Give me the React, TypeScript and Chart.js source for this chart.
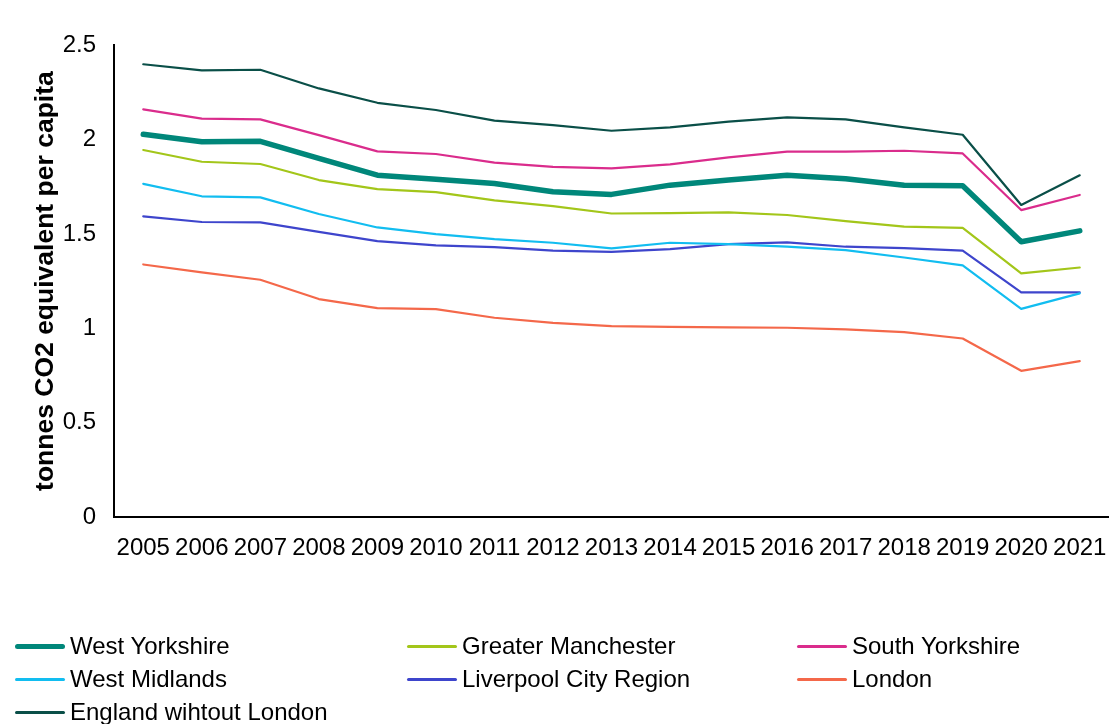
import React, { useEffect, useRef } from "react";
import { Chart, registerables } from "chart.js";

Chart.register(...registerables);

const years = ["2005","2006","2007","2008","2009","2010","2011","2012","2013","2014","2015","2016","2017","2018","2019","2020","2021"];

const westYorkshire = [2.027,1.988,1.990,1.900,1.811,1.789,1.767,1.723,1.709,1.758,1.785,1.810,1.792,1.758,1.755,1.458,1.516];
const greaterManchester = [1.944,1.882,1.870,1.785,1.737,1.721,1.677,1.647,1.608,1.610,1.614,1.600,1.568,1.538,1.532,1.291,1.322];
const southYorkshire = [2.159,2.110,2.106,2.023,1.937,1.923,1.877,1.855,1.847,1.868,1.905,1.935,1.935,1.940,1.926,1.626,1.706];
const westMidlands = [1.765,1.699,1.693,1.605,1.534,1.499,1.472,1.453,1.423,1.453,1.446,1.432,1.414,1.375,1.333,1.103,1.185];
const liverpoolCityRegion = [1.593,1.563,1.561,1.511,1.462,1.439,1.430,1.411,1.405,1.419,1.446,1.455,1.432,1.425,1.411,1.190,1.190];
const london = [1.338,1.296,1.257,1.155,1.107,1.102,1.056,1.029,1.012,1.008,1.005,1.003,0.994,0.980,0.946,0.775,0.826];
const englandWithoutLondon = [2.398,2.366,2.369,2.270,2.194,2.156,2.100,2.076,2.046,2.064,2.094,2.117,2.106,2.064,2.025,1.653,1.810];

const seriesNames = ["West Yorkshire","Greater Manchester","South Yorkshire","West Midlands","Liverpool City Region","London","England wihtout London"];
const seriesValues = [westYorkshire, greaterManchester, southYorkshire, westMidlands, liverpoolCityRegion, london, englandWithoutLondon];
const seriesColors = ["#00877A","#A3C61A","#DA2C8C","#12BDF0","#3E45CC","#F4684A","#0A4F48"];
const seriesWidths = [5.5, 2.2, 2.2, 2.2, 2.2, 2.2, 2.2];

const yTitle = "tonnes CO2 equivalent per capita";
const FONT = "'Liberation Sans', Arial, Helvetica, sans-serif";

const legendCols = [15, 407, 797];
const legendRows = [646, 679, 712];

export default function App() {
  const canvasRef = useRef<HTMLCanvasElement | null>(null);

  useEffect(() => {
    document.body.style.margin = "0";
    const ctx = canvasRef.current;
    if (!ctx) return;
    const chart = new Chart(ctx, {
      type: "line",
      data: {
        labels: years,
        datasets: seriesNames.map((name, i) => ({
          label: name,
          data: seriesValues[i],
          borderColor: seriesColors[i],
          backgroundColor: seriesColors[i],
          borderWidth: seriesWidths[i],
          pointRadius: 0,
          tension: 0,
          fill: false,
          borderJoinStyle: "round" as const,
          borderCapStyle: "round" as const,
        })),
      },
      options: {
        animation: false,
        responsive: false,
        maintainAspectRatio: false,
        layout: { padding: { top: 45, left: 0, right: 0, bottom: 144 } },
        plugins: {
          legend: { display: false },
          tooltip: { enabled: false },
        },
        scales: {
          x: {
            type: "category",
            offset: true,
            grid: { display: false, drawTicks: false },
            border: { display: true, color: "#000", width: 2 },
            ticks: {
              color: "#000",
              font: { family: FONT, size: 24 },
              padding: 17,
              maxRotation: 0,
              autoSkip: false,
            },
            afterFit: (scale: any) => {
              scale.paddingLeft = 0;
              scale.paddingRight = 0;
            },
          },
          y: {
            min: 0,
            max: 2.5,
            grid: { display: false, drawTicks: false },
            border: { display: true, color: "#000", width: 2 },
            ticks: {
              stepSize: 0.5,
              color: "#000",
              font: { family: FONT, size: 24 },
              padding: 18,
              callback: (v: any) => String(Number(v)),
            },
            title: {
              display: true,
              text: yTitle,
              color: "#000",
              font: { family: FONT, size: 26.5, weight: "bold" },
              padding: { top: 30, bottom: 0 },
            },
            afterFit: (scale: any) => {
              scale.width = 114;
            },
          },
        },
      },
    });
    return () => chart.destroy();
  }, []);

  return (
    <div style={{ position: "relative", width: 1109, height: 724, fontFamily: FONT }}>
      <canvas ref={canvasRef} width={1109} height={724} style={{ display: "block" }} />
      {seriesNames.map((name, i) => {
        const col = i % 3;
        const row = Math.floor(i / 3);
        return (
          <div
            key={name}
            style={{
              position: "absolute",
              left: legendCols[col],
              top: legendRows[row] - 16,
              height: 32,
              display: "flex",
              alignItems: "center",
              whiteSpace: "nowrap",
            }}
          >
            <div
              style={{
                width: 50,
                height: seriesWidths[i] > 3 ? 5 : 3,
                background: seriesColors[i],
                borderRadius: 3,
                marginRight: 5,
              }}
            />
            <span style={{ fontSize: 24, color: "#000", lineHeight: "32px" }}>{name}</span>
          </div>
        );
      })}
    </div>
  );
}
